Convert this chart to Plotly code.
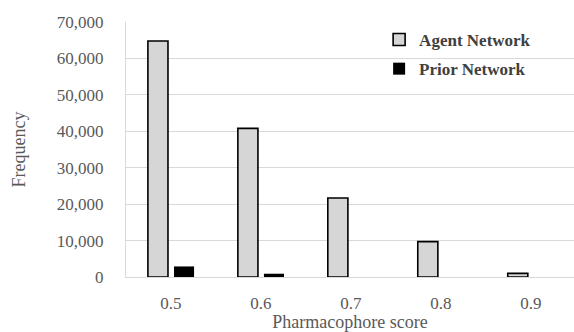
import plotly.graph_objects as go

categories = ["0.5", "0.6", "0.7", "0.8", "0.9"]
agent_network = [64800, 40800, 21700, 9700, 1000]
prior_network = [2900, 900, 0, 0, 0]
y_ticks = [0, 10000, 20000, 30000, 40000, 50000, 60000, 70000]
y_tick_labels = ["0", "10,000", "20,000", "30,000", "40,000", "50,000", "60,000", "70,000"]

FONT = "Liberation Serif, Times New Roman, serif"
GRAY = "#595959"
GRID = "#d9d9d9"

fig = go.Figure()
fig.add_trace(go.Bar(
    x=categories, y=agent_network, name="Agent Network", legendgroup="a",
    marker=dict(color="#d6d6d6", line=dict(color="black", width=1.6)),
))
fig.add_trace(go.Bar(
    x=categories, y=prior_network, name="Prior Network", legendgroup="b",
    marker=dict(color="black", line=dict(color="black", width=0)),
))

fig.update_layout(
    width=574, height=332,
    margin=dict(l=126, r=0, t=22, b=55, autoexpand=False),
    paper_bgcolor="white", plot_bgcolor="white",
    barmode="group", bargap=0.42, bargroupgap=0.23,
    font=dict(family=FONT, color=GRAY, size=17),
    showlegend=True,
    legend=dict(
        x=0.565, y=1.0, xanchor="left", yanchor="top",
        bgcolor="rgba(0,0,0,0)", tracegroupgap=4,
        font=dict(family=FONT, size=17, color="#404040", weight="bold"),
        itemwidth=30,
    ),
)
fig.update_xaxes(
    type="category", range=[-0.5, 4.48], automargin=False,
    showgrid=False, showline=True, linecolor=GRID, linewidth=1,
    ticks="outside", ticklen=11, tickcolor="rgba(0,0,0,0)",
    tickfont=dict(family=FONT, size=17, color=GRAY),
    title=dict(text="Pharmacophore score", font=dict(family=FONT, size=18, color=GRAY), standoff=4),
)
fig.update_yaxes(
    range=[0, 70000], tickvals=y_ticks, ticktext=y_tick_labels, automargin=False,
    showgrid=True, gridcolor=GRID, gridwidth=1,
    showline=True, linecolor=GRID, linewidth=1,
    zeroline=True, zerolinecolor=GRID, zerolinewidth=1,
    ticks="outside", ticklen=18, tickcolor="rgba(0,0,0,0)",
    tickfont=dict(family=FONT, size=17, color=GRAY),
    title=dict(text="Frequency", font=dict(family=FONT, size=18, color=GRAY), standoff=26),
)

fig.write_html(
    "out.html",
    config={"displayModeBar": False},
    post_script="document.body.style.margin='0';document.body.style.overflow='hidden';",
)
